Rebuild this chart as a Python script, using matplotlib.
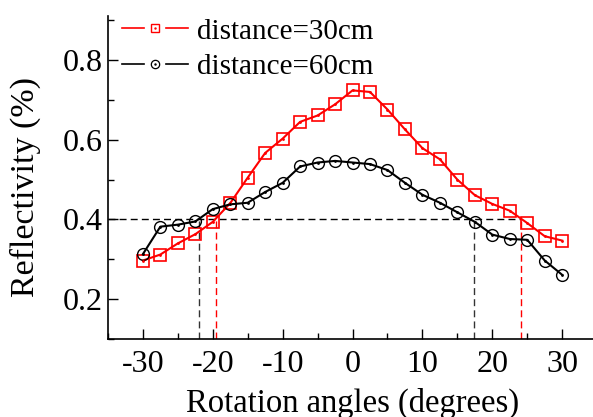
import matplotlib
matplotlib.use("Agg")
import matplotlib.pyplot as plt
from matplotlib.lines import Line2D
from matplotlib.legend_handler import HandlerBase
from matplotlib.ticker import MultipleLocator

plt.rcParams['font.family'] = ['Liberation Serif', 'DejaVu Serif']
plt.rcParams['axes.unicode_minus'] = False

angles = [-30, -27.5, -25, -22.5, -20, -17.5, -15, -12.5, -10, -7.5, -5, -2.5, 0,
          2.5, 5, 7.5, 10, 12.5, 15, 17.5, 20, 22.5, 25, 27.5, 30]
refl_30cm = [0.297, 0.312, 0.340, 0.363, 0.394, 0.441, 0.505, 0.567, 0.603, 0.645,
             0.661, 0.689, 0.724, 0.720, 0.676, 0.626, 0.579, 0.551, 0.500, 0.461,
             0.439, 0.422, 0.391, 0.358, 0.347]
refl_60cm = [0.313, 0.382, 0.387, 0.395, 0.426, 0.438, 0.442, 0.469, 0.492, 0.533,
             0.543, 0.547, 0.543, 0.539, 0.524, 0.492, 0.462, 0.442, 0.418, 0.394,
             0.362, 0.351, 0.349, 0.297, 0.261]

# threshold and crossing angles
level = 0.4
cross_30cm = [-19.5, 24.1]
cross_60cm = [-22.0, 17.4]

RED = '#ff0000'


class GapLineHandler(HandlerBase):
    """Legend key drawn as: line - gap - marker - gap - line."""

    def create_artists(self, legend, orig_handle, xdescent, ydescent,
                       width, height, fontsize, trans):
        color = orig_handle.get_color()
        marker = orig_handle.get_marker()
        mew = orig_handle.get_markeredgewidth()
        y = height / 2 - ydescent
        x0 = -xdescent
        x1 = x0 + width
        xm = (x0 + x1) / 2
        gap = 0.32 * width
        left = Line2D([x0, xm - gap / 2], [y, y], color=color, lw=1.2)
        right = Line2D([xm + gap / 2, x1], [y, y], color=color, lw=1.2)
        mk = Line2D([xm], [y], ls='none', marker=marker, ms=6, mfc='none',
                    mec=color, mew=mew)
        dot = Line2D([xm], [y], ls='none', marker='.', ms=1.5, color=color)
        arts = [left, right, mk, dot]
        for a in arts:
            a.set_transform(trans)
        return arts


fig = plt.figure(figsize=(5.93, 4.17), dpi=100)
ax = fig.add_axes([0.182, 0.187, 0.825, 0.774])

ax.plot(angles, refl_30cm, color=RED, lw=1.5, marker='s', ms=8,
        mfc='none', mec=RED, mew=1.2, zorder=3)
ax.plot(angles, refl_30cm, ls='none', marker='.', ms=2, color=RED, zorder=4)
ax.plot(angles, refl_60cm, color='black', lw=1.5, marker='o', ms=8.5,
        mfc='none', mec='black', mew=1.0, zorder=3)
ax.plot(angles, refl_60cm, ls='none', marker='.', ms=2, color='black', zorder=4)

ax.plot([-35, max(cross_30cm)], [level, level], color='black', lw=1.0, dashes=(5, 3))
for xc in cross_60cm:
    ax.plot([xc, xc], [0.1, level], color='#333333', lw=1.0, dashes=(5, 3))
for xc in cross_30cm:
    ax.plot([xc, xc], [0.1, level], color=RED, lw=1.0, dashes=(5, 3))

ax.set_xlim(-35, 35)
ax.set_ylim(0.1, 0.91)
ax.xaxis.set_major_locator(MultipleLocator(10))
ax.xaxis.set_minor_locator(MultipleLocator(5))
ax.yaxis.set_major_locator(MultipleLocator(0.2))
ax.yaxis.set_minor_locator(MultipleLocator(0.1))
ax.tick_params(which='both', direction='in', labelsize=23, width=1.0)
ax.tick_params(which='major', length=7)
ax.tick_params(which='minor', length=4)
ax.tick_params(axis='x', pad=8)
ax.spines['top'].set_visible(False)
ax.spines['right'].set_visible(False)
for s in ('left', 'bottom'):
    ax.spines[s].set_linewidth(1.2)

ax.set_xlabel('Rotation angles (degrees)', fontsize=23.5, labelpad=6)
ax.set_ylabel('Reflectivity (%)', fontsize=24.5)
ax.yaxis.set_label_coords(-0.137, 0.47)

handles = [Line2D([], [], color=RED, marker='s', mew=1.0),
           Line2D([], [], color='black', marker='o', mew=0.9)]
labels = ['distance=30cm', 'distance=60cm']
ax.legend(handles, labels, handler_map={Line2D: GapLineHandler()},
          loc='upper left', frameon=False, fontsize=21, handlelength=2.26,
          handletextpad=0.3, borderaxespad=0.0, labelspacing=0.3,
          bbox_to_anchor=(0.005, 1.03))

fig.savefig('out.png', dpi=100)
